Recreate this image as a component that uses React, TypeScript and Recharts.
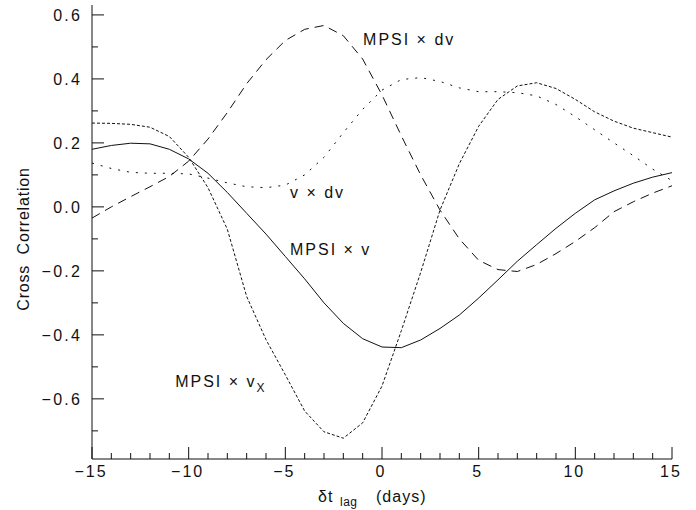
import { Label, Line, LineChart, ReferenceDot, XAxis, YAxis } from 'recharts';

const lagDays = [-15, -14, -13, -12, -11, -10, -9, -8, -7, -6, -5, -4, -3, -2, -1, 0, 1, 2, 3, 4, 5, 6, 7, 8, 9, 10, 11, 12, 13, 14, 15];

// MPSI x v (solid)
const mpsiV = [0.18, 0.192, 0.199, 0.197, 0.18, 0.15, 0.105, 0.045, -0.02, -0.085, -0.155, -0.225, -0.3, -0.364, -0.412, -0.438, -0.44, -0.416, -0.38, -0.338, -0.285, -0.228, -0.17, -0.118, -0.067, -0.02, 0.022, 0.05, 0.074, 0.093, 0.107];
// MPSI x vX (short dashes)
const mpsiVx = [0.262, 0.261, 0.258, 0.249, 0.22, 0.155, 0.06, -0.07, -0.28, -0.415, -0.525, -0.638, -0.703, -0.723, -0.675, -0.56, -0.387, -0.205, -0.01, 0.135, 0.252, 0.336, 0.378, 0.388, 0.37, 0.336, 0.297, 0.268, 0.246, 0.232, 0.218];
// MPSI x dv (long dashes)
const mpsiDv = [-0.035, 0.0, 0.032, 0.063, 0.095, 0.143, 0.212, 0.295, 0.385, 0.46, 0.52, 0.555, 0.567, 0.535, 0.462, 0.35, 0.222, 0.1, -0.01, -0.1, -0.167, -0.196, -0.202, -0.18, -0.146, -0.108, -0.065, -0.015, 0.016, 0.043, 0.066];
// v x dv (dotted)
const vDv = [0.137, 0.12, 0.108, 0.105, 0.105, 0.103, 0.09, 0.075, 0.063, 0.06, 0.068, 0.1, 0.155, 0.232, 0.305, 0.365, 0.398, 0.404, 0.392, 0.372, 0.36, 0.36, 0.357, 0.347, 0.32, 0.282, 0.241, 0.2, 0.16, 0.118, 0.082];

const yTicks = [-0.7, -0.6, -0.5, -0.4, -0.3, -0.2, -0.1, 0, 0.1, 0.2, 0.3, 0.4, 0.5, 0.6];

const data = lagDays.map((t, i) => ({ t, mpsiV: mpsiV[i], mpsiVx: mpsiVx[i], mpsiDv: mpsiDv[i], vDv: vDv[i] }));

const FONT = '"Liberation Sans", Arial, Helvetica, sans-serif';
const INK = '#111';
const MAJOR = 12;
const MINOR = 6;

const minus = (s: string) => s.replace('-', '\u2212');
const isMajorX = (v: number) => v % 5 === 0;
const isMajorY = (v: number) => Math.round(v * 10) % 2 === 0;

function BottomTick({ x, y, payload }: any) {
  const major = isMajorX(payload.value);
  return (
    <g>
      <line x1={x} x2={x} y1={y} y2={y - (major ? MAJOR : MINOR)} stroke={INK} />
      {major && (
        <text x={x - 1} y={y + 18} textAnchor="middle" fontFamily={FONT} fontSize={16} letterSpacing={2} fill={INK}>
          {minus(String(payload.value))}
        </text>
      )}
    </g>
  );
}

function TopTick({ x, y, payload }: any) {
  const major = isMajorX(payload.value);
  return <line x1={x} x2={x} y1={y} y2={y + (major ? MAJOR : MINOR)} stroke={INK} />;
}

function LeftTick({ x, y, payload }: any) {
  const major = isMajorY(payload.value);
  return (
    <g>
      <line x1={x} x2={x + (major ? MAJOR : MINOR)} y1={y} y2={y} stroke={INK} />
      {major && (
        <text x={x - 10} y={y} dy="0.36em" textAnchor="end" fontFamily={FONT} fontSize={16} letterSpacing={2.2} fill={INK}>
          {minus(Number(payload.value).toFixed(1))}
        </text>
      )}
    </g>
  );
}

function RightTick({ x, y, payload }: any) {
  const major = isMajorY(payload.value);
  return <line x1={x} x2={x - (major ? MAJOR : MINOR)} y1={y} y2={y} stroke={INK} />;
}

function XTitle({ viewBox }: any) {
  const x0 = viewBox.x + viewBox.width / 2 - 64;
  const y0 = viewBox.y + 43;
  return (
    <g fontFamily={FONT} fill={INK}>
      <text x={x0} y={y0} fontSize={16} letterSpacing={1}>δt</text>
      <text x={x0 + 22} y={y0 + 4} fontSize={12} letterSpacing={0.5}>lag</text>
      <text x={x0 + 58} y={y0} fontSize={16} letterSpacing={1}>(days)</text>
    </g>
  );
}

function YTitle() {
  return (
    <text x={23} y={239} transform="rotate(-90 23 239)" textAnchor="middle" dy="0.36em" fontFamily={FONT} fontSize={16} letterSpacing={0.8} fill={INK} style={{ whiteSpace: 'pre' }}>
      {'Cross  Correlation'}
    </text>
  );
}

function Note({ viewBox, text, sub }: any) {
  return (
    <text x={viewBox.x} y={viewBox.y} fontFamily={FONT} fontSize={16} letterSpacing={2} fill={INK} style={{ whiteSpace: 'pre' }}>
      {text}
      {sub && (
        <tspan dy={5} fontSize={12}>
          {sub}
        </tspan>
      )}
    </text>
  );
}

export default function App() {
  return (
    <div style={{ position: 'absolute', left: 0, top: 0, background: '#fff' }}>
      <LineChart width={696} height={510} data={data} margin={{ top: 5, right: 24, bottom: 0, left: 0 }}>
        <XAxis
          dataKey="t"
          type="number"
          domain={[-15, 15]}
          ticks={lagDays}
          interval={0}
          height={51}
          tickSize={0}
          tickMargin={0}
          tickLine={false}
          axisLine={{ stroke: INK }}
          tick={BottomTick}
        >
          <Label content={XTitle} />
        </XAxis>
        <XAxis
          xAxisId="top"
          orientation="top"
          dataKey="t"
          type="number"
          domain={[-15, 15]}
          ticks={lagDays}
          interval={0}
          height={0}
          tickSize={0}
          tickMargin={0}
          tickLine={false}
          axisLine={{ stroke: INK }}
          tick={TopTick}
        />
        <YAxis
          type="number"
          domain={[-0.788, 0.631]}
          allowDataOverflow
          ticks={yTicks}
          interval={0}
          width={92}
          tickSize={0}
          tickMargin={0}
          tickLine={false}
          axisLine={{ stroke: INK }}
          tick={LeftTick}
        >
          <Label content={YTitle} />
        </YAxis>
        <YAxis
          yAxisId="right"
          orientation="right"
          type="number"
          domain={[-0.788, 0.631]}
          allowDataOverflow
          ticks={yTicks}
          interval={0}
          width={0}
          tickSize={0}
          tickMargin={0}
          tickLine={false}
          axisLine={{ stroke: INK }}
          tick={RightTick}
        />
        <Line type="linear" dataKey="mpsiV" stroke={INK} strokeWidth={1} dot={false} isAnimationActive={false} />
        <Line type="linear" dataKey="mpsiVx" stroke={INK} strokeWidth={1} strokeDasharray="3 2" dot={false} isAnimationActive={false} />
        <Line type="linear" dataKey="mpsiDv" stroke={INK} strokeWidth={1} strokeDasharray="9 6" dot={false} isAnimationActive={false} />
        <Line type="linear" dataKey="vDv" stroke={INK} strokeWidth={1} strokeDasharray="2 7" dot={false} isAnimationActive={false} />
        <ReferenceDot x={-0.98} y={0.506} r={0} stroke="none" fill="none" label={(p: any) => <Note {...p} text="MPSI × dv" />} />
        <ReferenceDot x={-4.76} y={0.028} r={0} stroke="none" fill="none" label={(p: any) => <Note {...p} text="v × dv" />} />
        <ReferenceDot x={-4.76} y={-0.15} r={0} stroke="none" fill="none" label={(p: any) => <Note {...p} text="MPSI × v" />} />
        <ReferenceDot x={-10.7} y={-0.5625} r={0} stroke="none" fill="none" label={(p: any) => <Note {...p} text="MPSI × v" sub="X" />} />
      </LineChart>
    </div>
  );
}
